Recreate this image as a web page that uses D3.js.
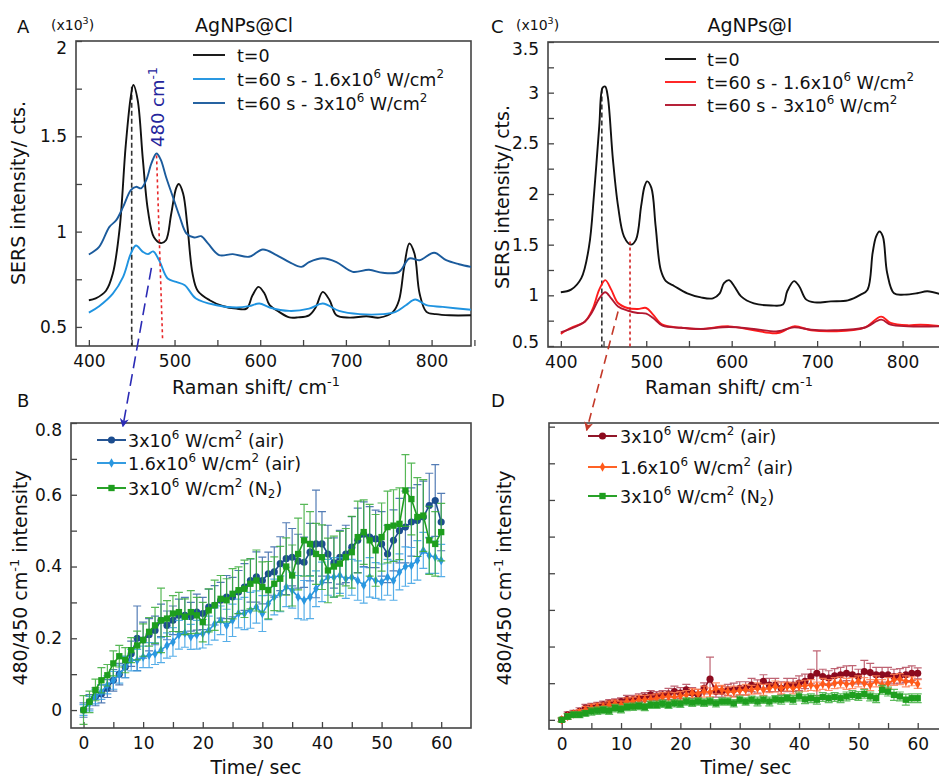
<!DOCTYPE html>
<html>
<head>
<meta charset="utf-8">
<script src="https://cdn.jsdelivr.net/npm/d3@7"></script>
<style>
  body { margin: 0; background: #fff; }
  svg { font-family: "DejaVu Sans", sans-serif; }
</style>
</head>
<body>
<svg id="fig" width="939" height="777"></svg>
<script>
// ---- spectra, [Raman shift, intensity x10^3] ----
const clT0 = [[400,0.64],[408,0.65],[420,0.69],[428,0.78],[436,1.02],[443,1.45],[449,1.71],[452,1.77],[457,1.69],[463,1.38],[469,1.11],[476,0.97],[484,0.94],[490,0.955],[496,1.09],[502,1.23],[505,1.25],[510,1.20],[515,1.03],[521,0.78],[527,0.69],[541,0.64],[556,0.61],[572,0.596],[584,0.596],[591,0.666],[598,0.71],[605,0.675],[611,0.614],[622,0.579],[634,0.55],[644,0.55],[657,0.561],[665,0.605],[673,0.684],[681,0.64],[689,0.561],[704,0.549],[724,0.556],[739,0.549],[755,0.579],[762,0.64],[768,0.815],[774,0.938],[780,0.885],[786,0.675],[794,0.579],[805,0.567],[821,0.561],[846,0.561]];
const clLow = [[400,0.575],[412,0.609],[428,0.675],[440,0.763],[449,0.885],[455,0.927],[463,0.894],[469,0.882],[475,0.896],[482,0.85],[492,0.754],[502,0.736],[512,0.719],[525,0.649],[549,0.614],[572,0.602],[587,0.609],[599,0.623],[611,0.602],[634,0.584],[657,0.596],[673,0.623],[692,0.584],[716,0.567],[743,0.567],[758,0.579],[770,0.614],[781,0.644],[794,0.614],[813,0.605],[846,0.59]];
const clHigh = [[400,0.88],[412,0.92],[424,1.025],[432,1.06],[440,1.13],[449,1.218],[455,1.235],[461,1.227],[467,1.27],[473,1.358],[479,1.41],[484,1.376],[490,1.288],[498,1.183],[506,1.078],[514,0.99],[523,0.969],[531,0.976],[539,0.938],[552,0.877],[568,0.882],[587,0.868],[603,0.906],[619,0.877],[634,0.84],[648,0.815],[657,0.84],[673,0.86],[689,0.84],[708,0.789],[727,0.80],[743,0.784],[762,0.789],[774,0.859],[786,0.85],[803,0.889],[817,0.85],[832,0.829],[846,0.815]];

const iT0 = [[400,1.03],[412,1.056],[424,1.17],[433,1.48],[439,2.01],[445,2.67],[449,3.05],[452,3.06],[455,2.96],[461,2.34],[467,1.88],[474,1.58],[482,1.50],[488,1.55],[494,1.88],[498,2.075],[501,2.125],[506,2.06],[511,1.68],[517,1.25],[523,1.14],[533,1.09],[548,1.02],[564,0.98],[578,0.97],[586,1.02],[591,1.12],[597,1.15],[603,1.09],[611,0.99],[626,0.92],[646,0.90],[660,0.91],[665,1.04],[673,1.14],[679,1.09],[687,0.96],[697,0.93],[716,0.94],[736,0.95],[751,1.007],[759,1.056],[765,1.42],[769,1.58],[773,1.63],[777,1.58],[782,1.22],[790,1.02],[802,1.007],[817,1.02],[829,1.04],[846,1.007]];
const iLow = [[400,0.62],[412,0.68],[428,0.74],[437,0.86],[445,1.056],[452,1.15],[459,1.056],[467,0.924],[478,0.875],[490,0.865],[500,0.875],[508,0.81],[519,0.71],[541,0.68],[564,0.668],[597,0.694],[626,0.655],[654,0.628],[673,0.694],[693,0.655],[720,0.645],[755,0.68],[775,0.79],[786,0.727],[806,0.704],[821,0.71],[846,0.694]];
const iHigh = [[400,0.635],[428,0.74],[437,0.84],[445,0.97],[452,1.03],[459,0.97],[467,0.89],[478,0.85],[490,0.826],[500,0.82],[508,0.776],[519,0.70],[541,0.68],[564,0.668],[597,0.687],[626,0.668],[654,0.645],[673,0.684],[693,0.66],[720,0.655],[755,0.68],[775,0.76],[786,0.71],[806,0.694],[846,0.694]];

// ---- 480/450 ratio vs time (one point per second) ----
const timeSec = d3.range(0, 61);

const bHigh = [0,0.023,0.037,0.045,0.06,0.083,0.10,0.12,0.157,0.20,0.195, 0.21,0.222,0.25,0.236,0.25,0.264,0.264,0.26,0.273,0.269, 0.287,0.292,0.306,0.315,0.315,0.329,0.343,0.361,0.371,0.361, 0.38,0.385,0.408,0.422,0.426,0.415,0.412,0.44,0.463,0.463, 0.435,0.41,0.426,0.435,0.454,0.473,0.49,0.482,0.477,0.463, 0.435,0.473,0.50,0.51,0.524,0.528,0.538,0.57,0.584,0.524];
const bLow = [0,0.018,0.037,0.05,0.07,0.083,0.10,0.12,0.139,0.139,0.148, 0.153,0.157,0.167,0.18,0.19,0.21,0.215,0.204,0.21,0.213, 0.222,0.24,0.25,0.236,0.25,0.269,0.269,0.278,0.287,0.269, 0.297,0.315,0.324,0.343,0.334,0.315,0.306,0.315,0.338,0.357, 0.37,0.37,0.375,0.366,0.37,0.361,0.348,0.37,0.361,0.357, 0.37,0.361,0.385,0.40,0.403,0.417,0.445,0.431,0.426,0.417];
const bN2 = [0,0.023,0.056,0.083,0.097,0.13,0.15,0.139,0.167,0.18,0.195, 0.218,0.236,0.25,0.255,0.269,0.273,0.26,0.273,0.264,0.245, 0.278,0.292,0.31,0.306,0.324,0.334,0.338,0.352,0.361,0.343, 0.334,0.352,0.366,0.40,0.375,0.435,0.473,0.463,0.435,0.426, 0.389,0.40,0.408,0.426,0.44,0.482,0.496,0.473,0.445,0.482, 0.51,0.514,0.519,0.612,0.588,0.538,0.542,0.473,0.463,0.496];
const eBHigh = [0.02,0.02,0.025,0.025,0.025,0.03,0.03,0.03,0.035, 0.09,0.05,0.045,0.04,0.045,0.04,0.04,0.045,0.05,0.04,0.05,0.045, 0.05,0.055,0.05,0.06,0.055,0.06,0.065,0.06,0.07,0.065, 0.06,0.07,0.075,0.1,0.08,0.075,0.07,0.08,0.15,0.09, 0.08,0.07,0.075,0.08,0.085,0.09,0.09,0.085,0.08,0.09, 0.08,0.085,0.09,0.1,0.095,0.1,0.1,0.09,0.1,0.08];
const eBLow = [0.015,0.02,0.02,0.02,0.025,0.025,0.025,0.03,0.03, 0.03,0.03,0.035,0.03,0.035,0.035,0.04,0.04,0.04,0.035,0.04,0.04, 0.04,0.045,0.04,0.045,0.045,0.04,0.045,0.05,0.045,0.05, 0.045,0.05,0.05,0.055,0.05,0.06,0.055,0.06,0.05,0.055, 0.05,0.055,0.05,0.055,0.05,0.055,0.05,0.055,0.05,0.05, 0.05,0.055,0.05,0.055,0.05,0.055,0.05,0.05,0.045,0.045];
const eBN2 = [0.04,0.03,0.03,0.035,0.03,0.035,0.03,0.035,0.035, 0.04,0.045,0.04,0.05,0.09,0.05,0.05,0.055,0.05,0.06,0.05,0.055, 0.06,0.07,0.065,0.06,0.07,0.065,0.08,0.07,0.085,0.07, 0.08,0.075,0.09,0.08,0.085,0.1,0.1,0.09,0.085,0.09, 0.09,0.085,0.09,0.08,0.1,0.1,0.09,0.1,0.1,0.095, 0.1,0.1,0.1,0.1,0.1,0.11,0.1,0.095,0.09,0.08];

const dHigh = [0,0.014,0.018,0.023,0.032,0.035,0.038,0.041,0.045,0.047,0.05, 0.055,0.055,0.059,0.062,0.068,0.065,0.068,0.071,0.077,0.073, 0.082,0.073,0.068,0.086,0.111,0.077,0.077,0.082,0.082,0.086, 0.086,0.095,0.091,0.105,0.095,0.095,0.086,0.095,0.095,0.10, 0.105,0.118,0.127,0.118,0.114,0.12,0.123,0.127,0.123,0.118, 0.132,0.129,0.123,0.123,0.123,0.118,0.12,0.123,0.127,0.127];
const dLow = [0,0.009,0.016,0.02,0.027,0.032,0.035,0.036,0.041,0.044,0.041, 0.05,0.05,0.055,0.055,0.056,0.059,0.062,0.064,0.062,0.065, 0.068,0.073,0.071,0.077,0.075,0.086,0.082,0.077,0.077,0.08, 0.082,0.082,0.086,0.082,0.086,0.091,0.086,0.091,0.086,0.091, 0.093,0.095,0.091,0.098,0.095,0.10,0.102,0.098,0.10,0.105, 0.10,0.095,0.105,0.095,0.10,0.109,0.111,0.105,0.105,0.098];
const dN2 = [0,0.009,0.014,0.014,0.018,0.023,0.025,0.027,0.025,0.032,0.029, 0.035,0.036,0.038,0.035,0.041,0.041,0.044,0.041,0.045,0.044, 0.05,0.047,0.05,0.047,0.05,0.045,0.05,0.05,0.045,0.055, 0.05,0.055,0.05,0.055,0.05,0.056,0.055,0.059,0.055,0.064, 0.056,0.059,0.055,0.062,0.059,0.062,0.059,0.064,0.068,0.065, 0.071,0.064,0.059,0.082,0.077,0.068,0.064,0.055,0.059,0.059];
const eDHigh = [0.005,0.008,0.008,0.01,0.01,0.01,0.01,0.01,0.01,0.01,0.01, 0.012,0.012,0.012,0.012,0.012,0.012,0.012,0.015,0.015,0.015, 0.015,0.015,0.015,0.015,0.06,0.015,0.015,0.015,0.018,0.018, 0.018,0.018,0.018,0.018,0.018,0.018,0.018,0.018,0.018,0.02, 0.02,0.02,0.061,0.02,0.02,0.02,0.02,0.02,0.025,0.02, 0.03,0.025,0.02,0.02,0.02,0.02,0.02,0.02,0.02,0.015];
const eDLow = [0.005,0.008,0.008,0.008,0.01,0.01,0.01,0.01,0.01,0.01,0.01, 0.01,0.012,0.012,0.012,0.012,0.012,0.012,0.012,0.012,0.012, 0.012,0.012,0.012,0.015,0.012,0.015,0.012,0.012,0.015,0.012, 0.015,0.012,0.015,0.015,0.012,0.015,0.015,0.012,0.015,0.015, 0.015,0.015,0.012,0.015,0.015,0.015,0.015,0.015,0.015,0.015, 0.015,0.015,0.015,0.015,0.015,0.015,0.015,0.015,0.012,0.012];
const eDN2 = [0.005,0.008,0.008,0.008,0.008,0.01,0.01,0.01,0.01,0.01,0.01, 0.01,0.01,0.01,0.01,0.01,0.01,0.01,0.01,0.01,0.01, 0.01,0.01,0.01,0.01,0.01,0.01,0.01,0.01,0.01,0.01, 0.01,0.01,0.012,0.01,0.012,0.01,0.012,0.01,0.012,0.012, 0.012,0.012,0.012,0.012,0.012,0.012,0.012,0.012,0.012,0.012, 0.012,0.012,0.012,0.012,0.012,0.015,0.012,0.015,0.012,0.012];

// tick values
const shiftTicks = [400, 500, 600, 700, 800];
const shiftMinor = [450, 550, 650, 750, 850];
const clTicks = [0.5, 1, 1.5, 2];
const clMinor = [0.75, 1.25, 1.75];
const iTicks = [0.5, 1, 1.5, 2, 2.5, 3, 3.5];
const iMinor = [0.75, 1.25, 1.75, 2.25, 2.75, 3.25];
const timeTicks = [0, 10, 20, 30, 40, 50, 60];
const timeMinor = [5, 15, 25, 35, 45, 55];
const ratioTicks = [0, 0.2, 0.4, 0.6, 0.8];
const ratioMinor = [0.1, 0.3, 0.5, 0.7];
const ratioTicksD = [0, 0.1, 0.2, 0.3, 0.4, 0.5, 0.6, 0.7, 0.8];

const svg = d3.select('#fig');

// writes "a^{b}c_{d}" as text with raised / lowered tspans
function richText(sel, str, size) {
  const parts = str.split(/(\^\{[^}]*\}|_\{[^}]*\})/).filter(s => s.length);
  let shift = 0;
  parts.forEach(s => {
    let target = 0, txt = s, fs = size;
    if (s.startsWith('^{')) { target = -0.42 * size; txt = s.slice(2, -1); fs = size * 0.68; }
    else if (s.startsWith('_{')) { target = 0.22 * size; txt = s.slice(2, -1); fs = size * 0.68; }
    sel.append('tspan')
      .attr('dy', target - shift)
      .attr('font-size', fs)
      .text(txt);
    shift = target;
  });
  return sel;
}

// arrowheads for the dashed pointers
const defs = svg.append('defs');
function arrowMarker(id, color) {
  defs.append('marker')
    .attr('id', id)
    .attr('viewBox', '0 0 10 10')
    .attr('refX', 9).attr('refY', 5)
    .attr('markerWidth', 9).attr('markerHeight', 9)
    .attr('markerUnits', 'userSpaceOnUse')
    .attr('orient', 'auto')
    .append('path')
    .attr('d', 'M0,0 L10,5 L0,10 L3,5 Z')
    .attr('fill', color);
}
arrowMarker('arrBlue', '#2b2bb5');
arrowMarker('arrRed', '#c43a2a');

function makePanel(box, xDom, yDom, id) {
  const x = d3.scaleLinear().domain(xDom).range([box.left, box.right]);
  const y = d3.scaleLinear().domain(yDom).range([box.bottom, box.top]);
  defs.append('clipPath').attr('id', id)
    .append('rect')
    .attr('x', box.left).attr('y', box.top)
    .attr('width', box.right - box.left).attr('height', box.bottom - box.top);
  return { x, y, box, clip: `url(#${id})` };
}

const pA = makePanel({ left: 76, right: 471, top: 41, bottom: 346 }, [385, 846], [0.4, 2.0], 'clipA');
const pC = makePanel({ left: 548, right: 941, top: 42, bottom: 347 }, [385, 845], [0.49, 3.5], 'clipC');
const pB = makePanel({ left: 71, right: 471, top: 423, bottom: 728 }, [-2.1, 65], [-0.05, 0.8], 'clipB');
const pD = makePanel({ left: 549, right: 945, top: 423, bottom: 729 }, [-2.14, 64.6], [-0.025, 0.81], 'clipD');

function drawAxes(p, xTicks, xMinor, yTicks, yMinor, yFmt, showYLabels) {
  const b = p.box;
  const ax = d3.axisBottom(p.x).tickValues(xTicks).tickSizeInner(-6).tickSizeOuter(0).tickPadding(9).tickFormat(d3.format('d'));
  const axm = d3.axisBottom(p.x).tickValues(xMinor).tickSizeInner(-6).tickSizeOuter(0).tickFormat('');
  const ay = d3.axisLeft(p.y).tickValues(yTicks).tickSizeInner(-6).tickSizeOuter(0).tickPadding(9)
    .tickFormat(showYLabels ? yFmt : '');
  const aym = d3.axisLeft(p.y).tickValues(yMinor).tickSizeInner(-6).tickSizeOuter(0).tickFormat('');

  [[ax, 'x'], [axm, 'x'], [ay, 'y'], [aym, 'y']].forEach(([a, k]) => {
    const g = svg.append('g')
      .attr('transform', k === 'x' ? `translate(0,${b.bottom})` : `translate(${b.left},0)`)
      .call(a);
    g.select('.domain').remove();
    g.selectAll('line').attr('stroke', '#444').attr('stroke-width', 1.3);
    g.selectAll('text').attr('font-size', 17).attr('fill', '#111')
      .attr('font-family', '"DejaVu Sans", sans-serif');
    if (k === 'y') {
      // labels at the ends of the axis are pulled inside the frame, as in the original
      g.selectAll('.tick text').attr('dy', d => {
        const py = p.y(d);
        if (py - b.top < 6) return '0.75em';
        if (b.bottom - py < 3) return '0.1em';
        return '0.32em';
      });
    }
  });

  // frame
  svg.append('rect')
    .attr('x', b.left).attr('y', b.top)
    .attr('width', b.right - b.left).attr('height', b.bottom - b.top)
    .attr('fill', 'none').attr('stroke', '#444').attr('stroke-width', 1.6);
}

function fmtSpec(d) { return d3.format('~g')(d); }
function fmtRatio(d) { return d === 0 ? '0' : d3.format('.1f')(d); }

drawAxes(pA, shiftTicks, shiftMinor, clTicks, clMinor, fmtSpec, true);
drawAxes(pC, shiftTicks, shiftMinor, iTicks, iMinor, fmtSpec, true);
drawAxes(pB, timeTicks, timeMinor, ratioTicks, ratioMinor, fmtRatio, true);
drawAxes(pD, timeTicks, timeMinor, ratioTicksD, [], fmtRatio, false);

// ---- spectra ----
function drawSpectrum(p, data, color) {
  const line = d3.line()
    .x(d => p.x(d[0]))
    .y(d => p.y(d[1]))
    .curve(d3.curveCatmullRom.alpha(0.5));
  svg.append('path')
    .datum(data)
    .attr('clip-path', p.clip)
    .attr('d', line)
    .attr('fill', 'none')
    .attr('stroke', color)
    .attr('stroke-width', 1.9)
    .attr('stroke-linejoin', 'round');
}

// guide lines at 450 and 480 cm-1
function guide(p, x0, y0, x1, y1, color, dash) {
  svg.append('line')
    .attr('x1', p.x(x0)).attr('y1', p.y(y0))
    .attr('x2', p.x(x1)).attr('y2', p.y(y1))
    .attr('stroke', color).attr('stroke-width', 1.6)
    .attr('stroke-dasharray', dash);
}

guide(pA, 450, 1.76, 450, 0.4, '#333', '5,3');
drawSpectrum(pA, clT0, '#111');
drawSpectrum(pA, clLow, '#1f93e0');
drawSpectrum(pA, clHigh, '#1b5b9c');
guide(pA, 479, 1.40, 486, 0.44, '#e8282a', '3,3');

guide(pC, 448, 3.04, 448, 0.49, '#333', '5,3');
drawSpectrum(pC, iT0, '#111');
drawSpectrum(pC, iLow, '#ff1c1c');
drawSpectrum(pC, iHigh, '#b3172f');
guide(pC, 481, 1.53, 481, 0.49, '#d42222', '3,3');

// ---- time series with error bars ----
function drawSeries(p, values, errs, color, errColor, symbol, size) {
  const pts = timeSec.map((t, i) => ({ t, v: values[i], e: errs[i] }));
  const g = svg.append('g').attr('clip-path', p.clip);
  const cap = 4;
  g.append('path')
    .attr('d', pts.map(d => {
      const x = p.x(d.t), yt = p.y(d.v + d.e), yb = p.y(d.v - d.e);
      return `M${x},${yb}V${yt}M${x - cap},${yt}H${x + cap}M${x - cap},${yb}H${x + cap}`;
    }).join(''))
    .attr('fill', 'none')
    .attr('stroke', errColor)
    .attr('stroke-width', 1.2)
    .attr('opacity', 0.85);
  g.append('path')
    .datum(pts)
    .attr('d', d3.line().x(d => p.x(d.t)).y(d => p.y(d.v)))
    .attr('fill', 'none')
    .attr('stroke', color)
    .attr('stroke-width', 1.6);
  g.selectAll(null)
    .data(pts)
    .enter()
    .append('path')
    .attr('transform', d => `translate(${p.x(d.t)},${p.y(d.v)})`)
    .attr('d', d3.symbol().type(symbol).size(size))
    .attr('fill', color);
}

drawSeries(pB, bHigh, eBHigh, '#1c4d8f', '#3565a8', d3.symbolCircle, 40);
drawSeries(pB, bLow, eBLow, '#2a97e0', '#3aa0e4', d3.symbolDiamond, 26);
drawSeries(pB, bN2, eBN2, '#1e9e1e', '#3aab3a', d3.symbolSquare, 40);

drawSeries(pD, dHigh, eDHigh, '#8c0a1e', '#b4495a', d3.symbolCircle, 40);
drawSeries(pD, dLow, eDLow, '#ff5a1a', '#ff7e52', d3.symbolDiamond, 26);
drawSeries(pD, dN2, eDN2, '#1e9e1e', '#44b044', d3.symbolSquare, 40);

// ---- legends ----
function legend(x0, x1, textX, rows, withMarker) {
  rows.forEach(r => {
    svg.append('line')
      .attr('x1', x0).attr('x2', x1).attr('y1', r.y).attr('y2', r.y)
      .attr('stroke', r.color).attr('stroke-width', 1.9);
    if (withMarker) {
      svg.append('path')
        .attr('transform', `translate(${(x0 + x1) / 2},${r.y})`)
        .attr('d', d3.symbol().type(r.symbol).size(r.size))
        .attr('fill', r.color);
    }
    const t = svg.append('text')
      .attr('x', textX).attr('y', r.y + 6.5)
      .attr('font-size', 17.5).attr('fill', '#111');
    richText(t, r.label, 17.5);
  });
}

legend(193, 225, 237, [
  { y: 55, color: '#111', label: 't=0' },
  { y: 79, color: '#1f93e0', label: 't=60 s - 1.6x10^{6} W/cm^{2}' },
  { y: 103, color: '#1b5b9c', label: 't=60 s - 3x10^{6} W/cm^{2}' }
], false);

legend(665, 696, 707, [
  { y: 59, color: '#111', label: 't=0' },
  { y: 82, color: '#ff1c1c', label: 't=60 s - 1.6x10^{6} W/cm^{2}' },
  { y: 105, color: '#b3172f', label: 't=60 s - 3x10^{6} W/cm^{2}' }
], false);

legend(97, 126, 128, [
  { y: 440, color: '#1c4d8f', symbol: d3.symbolCircle, size: 40, label: '3x10^{6} W/cm^{2} (air)' },
  { y: 463, color: '#2a97e0', symbol: d3.symbolDiamond, size: 26, label: '1.6x10^{6} W/cm^{2} (air)' },
  { y: 488, color: '#1e9e1e', symbol: d3.symbolSquare, size: 40, label: '3x10^{6} W/cm^{2} (N_{2})' }
], true);

legend(588, 617, 620, [
  { y: 436, color: '#8c0a1e', symbol: d3.symbolCircle, size: 40, label: '3x10^{6} W/cm^{2} (air)' },
  { y: 467, color: '#ff5a1a', symbol: d3.symbolDiamond, size: 26, label: '1.6x10^{6} W/cm^{2} (air)' },
  { y: 496, color: '#1e9e1e', symbol: d3.symbolSquare, size: 40, label: '3x10^{6} W/cm^{2} (N_{2})' }
], true);

// ---- titles and labels ----
function label(x, y, txt, size, opts = {}) {
  const t = svg.append('text')
    .attr('font-size', size)
    .attr('fill', opts.fill || '#111')
    .attr('text-anchor', opts.anchor || 'start');
  if (opts.rotate) {
    t.attr('transform', `translate(${x + 0.36 * size},${y}) rotate(-90)`);
  } else {
    t.attr('x', x).attr('y', y);
  }
  richText(t, txt, size);
  return t;
}

label(17, 33, 'A', 18);
label(51, 30, '(x10^{3})', 14);
label(244, 32, 'AgNPs@Cl', 19, { anchor: 'middle' });
label(491, 33, 'C', 18);
label(516, 30, '(x10^{3})', 14);
label(750, 32, 'AgNPs@I', 19, { anchor: 'middle' });
label(17, 407, 'B', 18);
label(491, 407, 'D', 18);

label(256, 394, 'Raman shift/ cm^{-1}', 19, { anchor: 'middle' });
label(729, 394, 'Raman shift/ cm^{-1}', 19, { anchor: 'middle' });
label(256, 774, 'Time/ sec', 19, { anchor: 'middle' });
label(746, 774, 'Time/ sec', 19, { anchor: 'middle' });

label(18, 193, 'SERS intensity/ cts.', 19, { anchor: 'middle', rotate: true });
label(502, 197, 'SERS intensity/ cts.', 19, { anchor: 'middle', rotate: true });
label(20, 578, '480/450 cm^{-1} intensity', 19, { anchor: 'middle', rotate: true });
label(504, 578, '480/450 cm^{-1} intensity', 19, { anchor: 'middle', rotate: true });

// 480 cm-1 annotation
label(158, 147, '480 cm^{-1}', 18, { fill: '#25259c', rotate: true });

// dashed pointers from the spectra to the kinetics panels
svg.append('line')
  .attr('x1', pA.x(473)).attr('y1', pA.y(0.81))
  .attr('x2', pB.x(6.6)).attr('y2', pB.y(0.79))
  .attr('stroke', '#2b2bb5').attr('stroke-width', 1.6)
  .attr('stroke-dasharray', '12,6')
  .attr('marker-end', 'url(#arrBlue)');

svg.append('line')
  .attr('x1', pC.x(467)).attr('y1', pC.y(0.84))
  .attr('x2', pD.x(4.2)).attr('y2', pD.y(0.79))
  .attr('stroke', '#c43a2a').attr('stroke-width', 1.6)
  .attr('stroke-dasharray', '9,6')
  .attr('marker-end', 'url(#arrRed)');
</script>
</body>
</html>
